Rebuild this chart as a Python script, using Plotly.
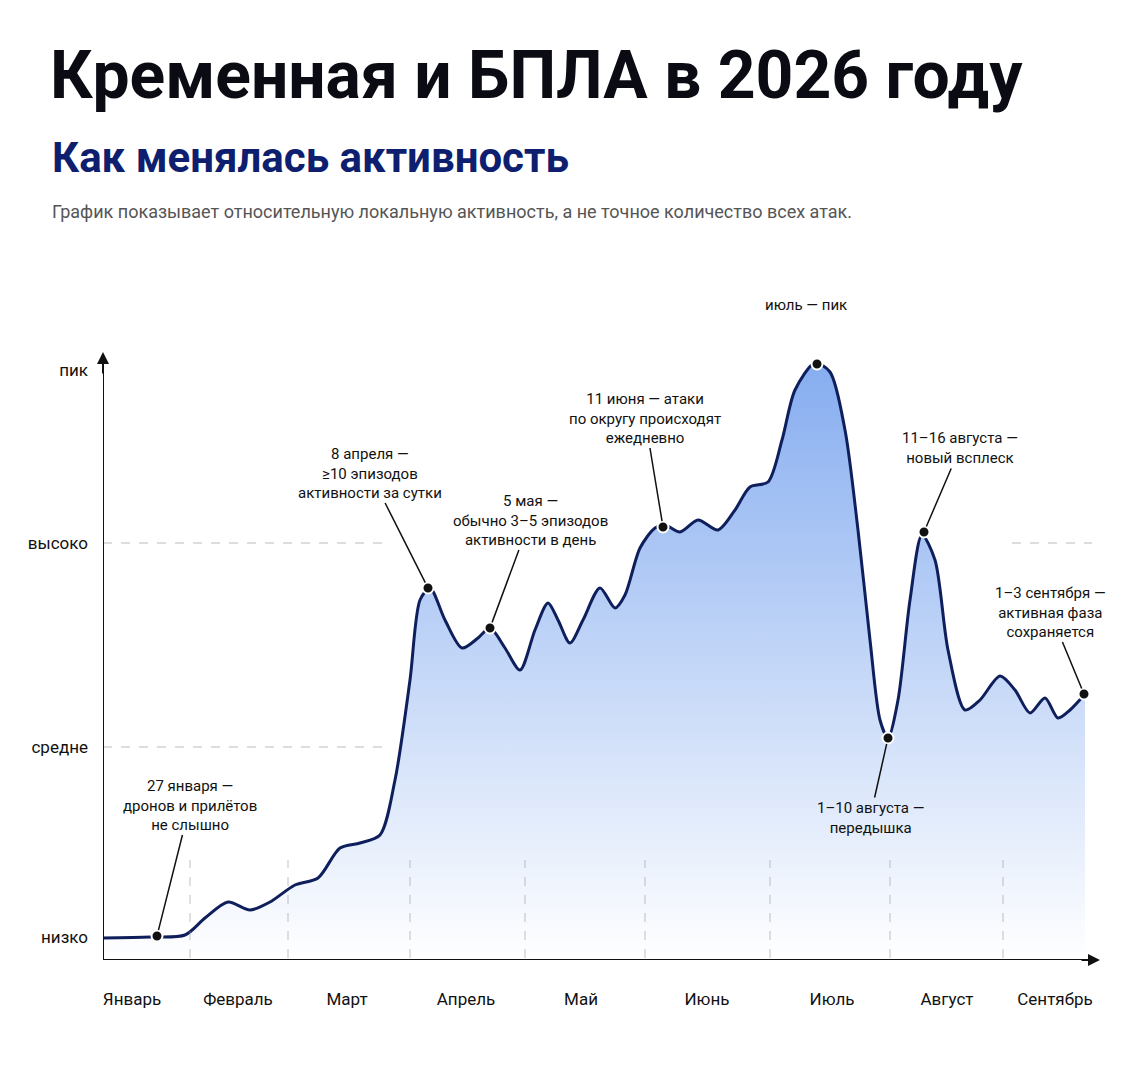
import plotly.graph_objects as go

# positions along timeline (px-based scale 103..1100) and activity level (0 = baseline)
xs = [103,150,185,205,228,250,270,295,318,340,360,380,395,410,420,430,445,462,478,490,505,520,535,548,558,570,583,600,615,625,640,655,665,680,698,718,735,750,768,782,795,815,830,845,858,870,880,888,898,910,922,935,948,965,980,1000,1015,1030,1045,1058,1070,1085]
ys_px = [938,937,935,918,902,910,902,885,878,848,843,835,780,680,600,588,620,648,638,628,648,670,630,603,620,643,620,588,608,595,548,528,525,532,520,530,510,487,482,440,390,363,372,430,530,640,720,738,700,600,535,560,650,710,700,676,690,713,698,718,710,694]
ys = [960 - v for v in ys_px]

mark_x = [157,428,490,663,817,888,924,1084]
mark_y = [960 - v for v in [936,588,628,527,364,738,532,694]]

level_vals = [23, 213, 417, 590]
level_text = ["низко", "средне", "высоко", "пик"]
month_pos = [132,238,347,466,581,707,832,947,1055]
month_text = ["Январь","Февраль","Март","Апрель","Май","Июнь","Июль","Август","Сентябрь"]
month_bounds = [190,288,410,525,645,770,890,1003]

notes = [
    ("27 января —<br>дронов и прилётов<br>не слышно", 190, 960-805, 0),
    ("8 апреля —<br>≥10 эпизодов<br>активности за сутки", 370, 960-473, 1),
    ("5 мая —<br>обычно 3–5 эпизодов<br>активности в день", 530, 960-520, 2),
    ("11 июня — атаки<br>по округу происходят<br>ежедневно", 645, 960-418, 3),
    ("1–10 августа —<br>передышка", 870, 960-818, 5),
    ("11–16 августа —<br>новый всплеск", 960, 960-448, 6),
    ("1–3 сентября —<br>активная фаза<br>сохраняется", 1050, 960-612, 7),
]

fig = go.Figure()
fig.add_trace(go.Scatter(x=xs, y=ys, mode="lines", line=dict(color="#0f1f5c", width=3, shape="spline", smoothing=0.8),
                         fill="tozeroy",
                         fillgradient=dict(type="vertical", colorscale=[[0, "rgba(255,255,255,1)"], [1, "#86adf0"]]),
                         hoverinfo="skip"))
fig.add_trace(go.Scatter(x=mark_x, y=mark_y, mode="markers",
                         marker=dict(color="#111", size=11, line=dict(color="white", width=2))))

shapes = []
for b in month_bounds:
    shapes.append(dict(type="line", x0=b, x1=b, y0=2, y1=100, line=dict(color="rgba(150,150,150,0.6)", width=1, dash="dash"), layer="above"))
for y, x0, x1 in [(417, 103, 390), (417, 1012, 1092), (213, 103, 385)]:
    shapes.append(dict(type="line", x0=x0, x1=x1, y0=y, y1=y, line=dict(color="#bbb", width=1, dash="dash"), layer="below"))
shapes.append(dict(type="line", x0=103, x1=1093, y0=0, y1=0, line=dict(color="#111", width=2)))
shapes.append(dict(type="line", x0=103, x1=103, y0=0, y1=600, line=dict(color="#111", width=2)))

ann = []
for t, ax, ay, i in notes:
    ann.append(dict(x=mark_x[i], y=mark_y[i], ax=ax, ay=ay, axref="x", ayref="y", xref="x", yref="y",
                    text=t, showarrow=True, arrowhead=0, arrowwidth=1.5, arrowcolor="#111", standoff=6,
                    font=dict(size=15, color="#111")))
ann.append(dict(x=1100, y=0, ax=1080, ay=0, axref="x", ayref="y", xref="x", yref="y", text="", showarrow=True,
                arrowhead=2, arrowsize=1.2, arrowwidth=2, arrowcolor="#111"))
ann.append(dict(x=103, y=608, ax=103, ay=585, axref="x", ayref="y", xref="x", yref="y", text="", showarrow=True,
                arrowhead=2, arrowsize=1.2, arrowwidth=2, arrowcolor="#111"))

def px2paper(px, py):
    return (px - 103) / 997, (960 - py) / 610

x, y = px2paper(806, 305)
ann.append(dict(x=x, y=y, xref="paper", yref="paper", xanchor="center", yanchor="middle", showarrow=False,
                text="июль — пик", font=dict(size=15, color="#111")))

for txt, px, py, size, color in [
    ("<b>Кременная и БПЛА в 2026 году</b>", 48, 75, 66, "#0b0b14"),
    ("<b>Как менялась активность</b>", 50, 158, 42, "#0d1f6e"),
    ("График показывает относительную локальную активность, а не точное количество всех атак.", 50, 212, 18, "#555"),
]:
    x, y = px2paper(px, py)
    ann.append(dict(x=x, y=y, xref="paper", yref="paper", xanchor="left", yanchor="middle", showarrow=False,
                    text=txt, font=dict(size=size, color=color, family="Roboto")))

fig.update_layout(
    width=1129, height=1078, paper_bgcolor="white", plot_bgcolor="white",
    margin=dict(l=95, r=37, t=342, b=126), showlegend=False,
    font=dict(family="Roboto", color="#111"),
    xaxis=dict(range=[103, 1100], showgrid=False, zeroline=False, showline=False, automargin=False,
               tickvals=month_pos, ticktext=month_text, tickfont=dict(size=17), ticks="", ticklabelstandoff=27),
    yaxis=dict(range=[0, 610], showgrid=False, zeroline=False, showline=False, automargin=False,
               tickvals=level_vals, ticktext=level_text, tickfont=dict(size=17), ticks="", ticklabelstandoff=14),
    shapes=shapes, annotations=ann,
)
fig.write_html("out.html")
